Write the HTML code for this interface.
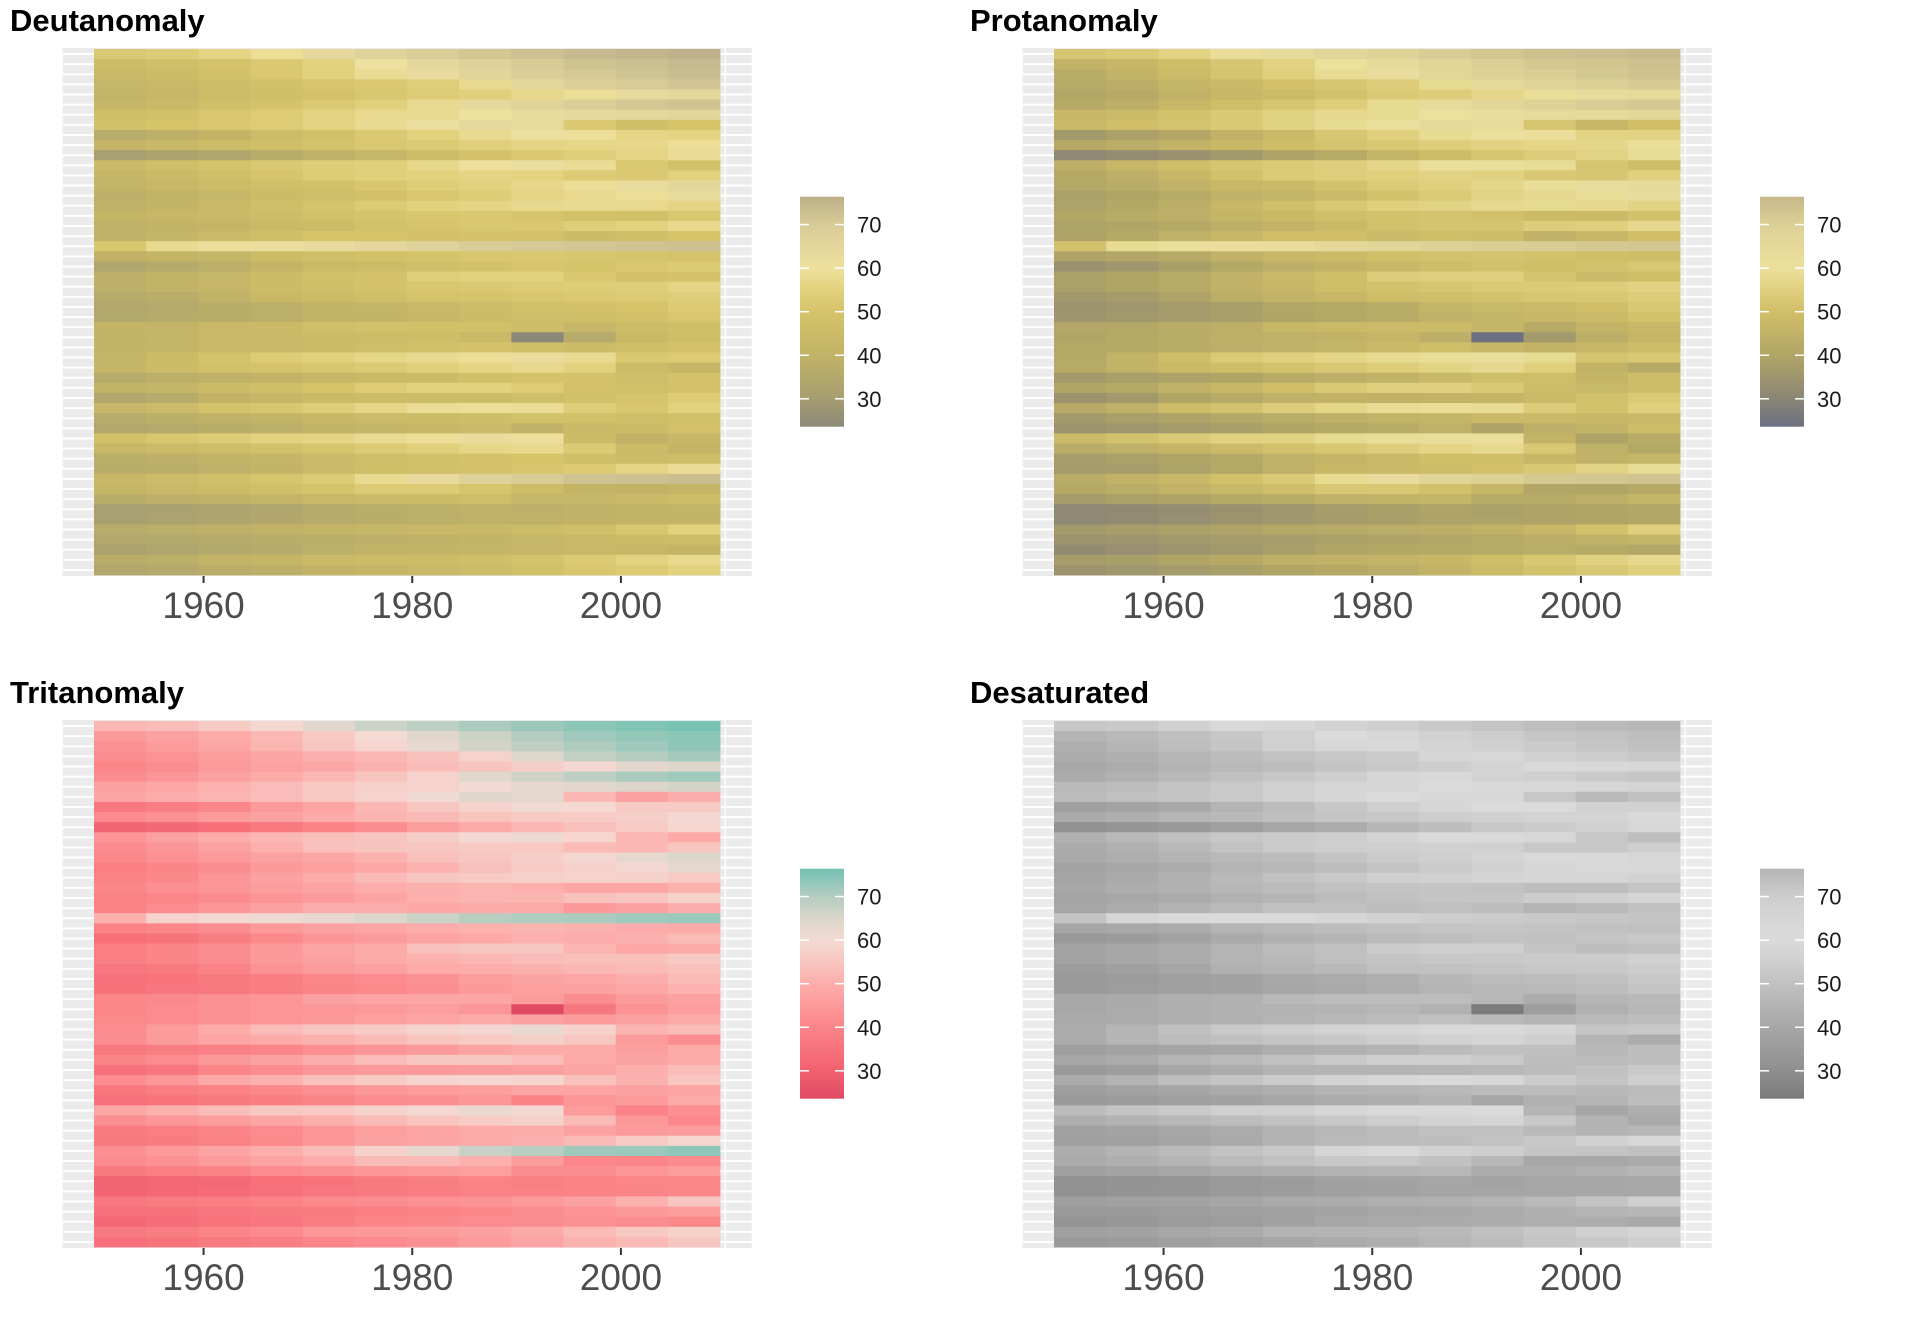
<!DOCTYPE html>
<html><head><meta charset="utf-8">
<style>
html,body{margin:0;padding:0;background:#fff;}
svg{display:block;}
</style></head>
<body>
<svg id="s" xmlns="http://www.w3.org/2000/svg" width="1920" height="1344" viewBox="0 0 1920 1344"></svg>
<script>
var D=[
[52,53,56,59,64,67,69,71,72.5,74,75,76],
[45,47,49.5,52,55.5,60,64,67,70,72,73,74],
[43,45.5,48.5,51.5,55,58.5,62.5,66,68.5,70.5,72,73.5],
[42,43.5,46,48,50.5,52,54,58,64.5,68,70,71.5],
[40.5,42,45,47,48.5,51,53,54.5,57,59,63,64.5],
[42,44,47,49.5,52,54.5,58,63.5,66.5,69,71,72],
[47,48.5,51,53,55.5,57.5,58,60,62.5,63.5,64.5,66],
[48,50,51.5,53,55.5,58,61,64,63,52,47,50],
[36.5,38.5,40.5,45,48,52,55,58,60.5,59.5,56,56],
[41.5,43,45.5,47,49.5,51.5,52.5,54.5,56,56.5,57,59],
[31,32.5,34,36.5,39.5,42,46,49,52,54,56,58.5],
[44,47,50,52,53.5,54.5,57,59.5,61.5,58.5,52,49],
[41.5,44,47,50.5,53.5,54.5,55,56,55.5,52.5,52,55],
[41,42.5,45,47,48.5,51,53.5,55,57,59,62.5,64.5],
[38.5,40,42,45,46.5,48.5,51,53.5,56,57.5,59,63],
[39,41,44,47,50,52.5,55,56,57.5,58,57.5,56],
[40.5,42.5,44,46,48,50,51,51.5,50.5,48.5,48.5,51],
[39,40,41.5,44,45.5,48,50.5,51.5,51.5,54,55,57.5],
[39.5,41.5,44.5,47,50,50,48.5,49.5,49,45,47,50],
[51,58,59.5,61,62.5,65,67,69.5,70.5,71,72,72.5],
[39.5,40.5,42,45,47,48.5,50,51,51.5,51,50,49.5],
[34,35.5,38,41,44,45.5,47.5,49,50.5,50,51,52.5],
[38.5,40,42,45,48,49.5,54,55,55,51.5,48.5,49.5],
[38.5,40,42,45,47,49.5,51,52,53,53.5,54,56],
[36,37,39.5,43.5,45.5,47,49.5,50,51,52,52.5,54],
[34.5,35.5,37,38,40.5,41.5,43,46,47.5,48.5,50,52.5],
[35,36,37,38,40,41,42.5,45,46.5,47,48.5,51],
[40.5,41,43,44,47,48,48.5,48.5,46,42,45.5,47],
[40,41.5,43,44.1,44.6,45,46.2,44,23.6,36.1,43.4,46.2],
[41,41.5,43,44,45,46.5,48,49.5,47,45.5,47,49],
[41.5,45.5,49.5,53,55,56.5,58,59,62,58,51.5,52.5],
[42,45.5,48,49.5,51,52.5,54.5,56,57.5,55,45.5,42],
[36.5,38,39,40,42.5,44,45,47.5,49.5,49.5,46.5,49],
[40,41.5,45,47,50,53,55,55,53,49,47.5,49],
[34.5,36,40,42,44.5,45,45,45.5,46.5,48,50.5,53],
[42,44.5,49,51,54,56.5,58.5,59,58.5,54,51,55],
[36.5,38,39.5,41,42.5,44.5,45.5,46.5,48,48,47,47.5],
[34.5,35.5,37,38,40,41.5,42.5,44.5,39.5,44,45.5,49],
[48.5,51,53,55.5,56,58,59,62,59.5,45.5,39.5,42.5],
[42.5,44.5,46,48.5,50.5,52.5,54.5,56.5,57.5,52.5,44.5,41],
[37.5,38.5,40,41.5,44.5,46.5,48,49.5,50,47,45,46],
[37,37.5,39,41,44.5,47,48,49,50.5,52.5,56,58.5],
[42.5,45,47.5,50.5,53,58,63,67.5,69.5,72,72.5,73.5],
[41.5,43,45.5,47.5,50,52.5,52.5,50.5,46,40.5,40,41.5],
[37,38.5,39.5,41.5,43,44.5,45.5,46.5,42,42,44,46],
[31,31.5,32.5,34,35.5,37,38,39.5,38.5,39.5,40,40.5],
[31,32,33,34.5,36,37,38,39,39,39.5,40,40.5],
[36.5,37.5,38.5,39.5,41,42,43,43.5,45,47,51,55],
[34.5,35,36,37,37.5,38.5,39.5,40.5,42,43.5,45,46],
[32,33.5,35,36,38,40,41,41.5,42,43,42,40.5],
[37,38,40,41.5,44.5,45,45.5,47,49.5,52.5,55.5,57.5],
[34.5,35.5,37,38,40,41.5,43,45.5,48,51,52.5,55]
];
var SV=[23.6,30,40,50,55,60,65,70,76.4];
var PAL={
deu:["#8c8878","#a69e72","#c2b366","#d5c46a","#e2d17d","#eee09e","#e4d69c","#d8cb96","#bdb08a"],
pro:["#6d7082","#8a8575","#b1a566","#d0bf68","#e0d07e","#ece09d","#e5d89a","#dcd096","#c6b88a"],
tri:["#e04a65","#f2606f","#fb8589","#fcadab","#f8c6c0","#f3dbd4","#dbd5ca","#b4cdc0","#72c1b2"],
des:["#7b7b7b","#8f8f8f","#a7a7a7","#c1c1c1","#cfcfcf","#dbdbdb","#d6d6d6","#cdcdcd","#b5b5b5"]
};
function hx(c){return [parseInt(c.substr(1,2),16),parseInt(c.substr(3,2),16),parseInt(c.substr(5,2),16)];}
function col(p,v){
  var st=PAL[p];
  if(v<=SV[0]) return st[0];
  for(var i=0;i<SV.length-1;i++){
    if(v<=SV[i+1]){
      var t=(v-SV[i])/(SV[i+1]-SV[i]);
      var a=hx(st[i]),b=hx(st[i+1]);
      return "rgb("+Math.round(a[0]+(b[0]-a[0])*t)+","+Math.round(a[1]+(b[1]-a[1])*t)+","+Math.round(a[2]+(b[2]-a[2])*t)+")";
    }
  }
  return st[st.length-1];
}
var panels=[["Deutanomaly","deu",0,0],["Protanomaly","pro",960,0],["Tritanomaly","tri",0,672],["Desaturated","des",960,672]];
var h="";
var X0=94, CW=52.17, Y0=49, RH=526/52;
function xy(y){return X0+(y-1949.5)*CW/5;}
for(var pi=0;pi<panels.length;pi++){
  var P=panels[pi], ox=P[2], oy=P[3], p=P[1];
  h+='<g transform="translate('+ox+','+oy+')">';
  h+='<text x="10" y="31" font-family="Liberation Sans, sans-serif" font-weight="bold" font-size="31" fill="#000">'+P[0]+'</text>';
  var bgB=Y0+RH*52+1;
  h+='<rect x="62.7" y="48" width="689" height="'+(bgB-48)+'" fill="#ebebeb"/>';
  for(var r=0;r<52;r++){
    var cy=Y0+RH*(r+0.5);
    h+='<line x1="62.7" x2="751.7" y1="'+cy.toFixed(2)+'" y2="'+cy.toFixed(2)+'" stroke="#fff" stroke-width="2"/>';
  }
  h+='<line x1="'+xy(2010)+'" x2="'+xy(2010)+'" y1="48" y2="'+bgB+'" stroke="#fff" stroke-width="1.2"/>';
  for(var r2=0;r2<52;r2++){
    for(var c=0;c<12;c++){
      var x=X0+c*CW, y=Y0+r2*RH;
      h+='<rect x="'+x.toFixed(2)+'" y="'+y.toFixed(2)+'" width="'+(CW+0.4).toFixed(2)+'" height="'+(RH+0.4).toFixed(2)+'" fill="'+col(p,D[r2][c])+'"/>';
    }
  }
  var yrs=[1960,1980,2000];
  for(var k=0;k<3;k++){
    var tx=xy(yrs[k]);
    h+='<line x1="'+tx+'" x2="'+tx+'" y1="'+bgB+'" y2="'+(bgB+7)+'" stroke="#333" stroke-width="2"/>';
    h+='<text x="'+tx+'" y="618" text-anchor="middle" font-family="Liberation Sans, sans-serif" font-size="37" fill="#4d4d4d">'+yrs[k]+'</text>';
  }
  var gid="g"+p;
  h+='<defs><linearGradient id="'+gid+'" x1="0" y1="1" x2="0" y2="0">';
  for(var s=0;s<=40;s++){
    var v=23.6+(76.4-23.6)*s/40;
    h+='<stop offset="'+(s/40)+'" stop-color="'+col(p,v)+'"/>';
  }
  h+='</linearGradient></defs>';
  var LT=196.7, LB=426.7;
  h+='<rect x="800" y="'+LT+'" width="44" height="'+(LB-LT)+'" fill="url(#'+gid+')"/>';
  var lv=[30,40,50,60,70];
  for(var q=0;q<5;q++){
    var ly=LB-(lv[q]-23.6)/(76.4-23.6)*(LB-LT);
    h+='<line x1="800" x2="809" y1="'+ly+'" y2="'+ly+'" stroke="#fff" stroke-width="1.5"/>';
    h+='<line x1="835" x2="844" y1="'+ly+'" y2="'+ly+'" stroke="#fff" stroke-width="1.5"/>';
    h+='<text x="857" y="'+(ly+8)+'" font-family="Liberation Sans, sans-serif" font-size="22" fill="#1a1a1a">'+lv[q]+'</text>';
  }
  h+='</g>';
}
document.getElementById("s").innerHTML=h;
</script>
</body></html>
